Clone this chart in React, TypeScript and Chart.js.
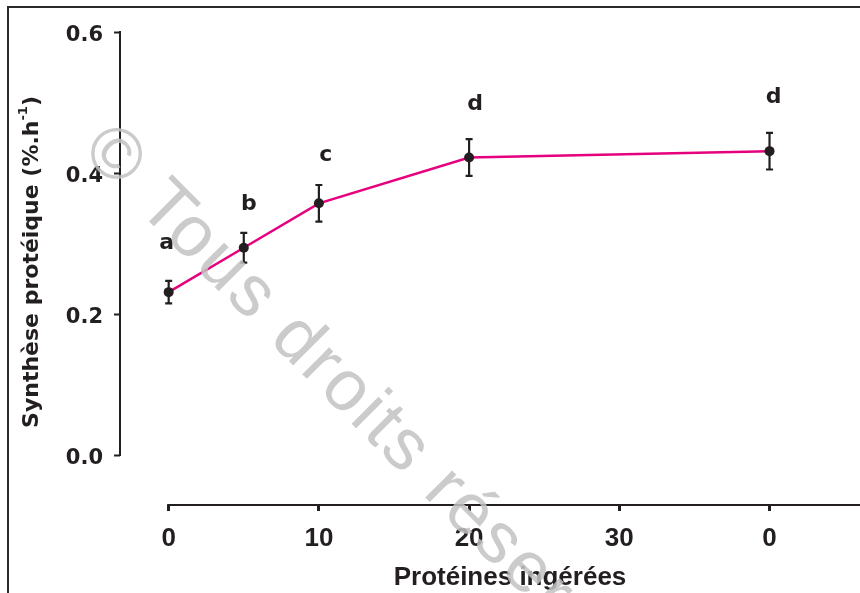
import React, { useEffect, useRef } from 'react';
import { Chart, registerables } from 'chart.js';

Chart.register(...registerables);

// ---- data ----
const doses = [0, 5, 10, 20, 40];
const synthesis = [0.231, 0.294, 0.357, 0.422, 0.431];
const sem = [0.016, 0.021, 0.026, 0.026, 0.026];
const groupLetters = ['a', 'b', 'c', 'd', 'd'];
const xTickValues = [0, 10, 20, 30, 40];
const xTickLabels = ['0', '10', '20', '30', '0'];
const yTickValues = [0, 0.2, 0.4, 0.6];
const yTickLabels = ['0.0', '0.2', '0.4', '0.6'];
const xTitle = 'Protéines ingérées';
const yTitleMain = 'Synthèse protéique (%.h';
const yTitleSup = '-1';
const yTitleEnd = ')';
const watermark = '© Tous droits réservés';

// ---- layout / style ----
const W = 860;
const H = 593;
const INK = '#231f20';
const MAGENTA = '#e6007e';
const LETTER_OFFSETS = [[-2, -49], [5, -43], [7, -48], [6, -53], [4, -54]];
const Y_FONT = '"DejaVu Sans", sans-serif';
const X_FONT = '"Liberation Sans", Arial, sans-serif';

const decor = {
  id: 'decor',
  beforeDraw(chart: any) {
    const ctx = chart.ctx;
    ctx.save();
    ctx.fillStyle = '#ffffff';
    ctx.fillRect(0, 0, chart.width, chart.height);
    ctx.strokeStyle = '#2b2b2b';
    ctx.lineWidth = 2;
    ctx.beginPath();
    ctx.moveTo(8, chart.height);
    ctx.lineTo(8, 7);
    ctx.lineTo(chart.width, 7);
    ctx.stroke();
    ctx.restore();
  },
  beforeDatasetsDraw(chart: any) {
    const ctx = chart.ctx;
    const xs = chart.scales.x;
    const ys = chart.scales.y;
    const area = chart.chartArea;
    ctx.save();
    ctx.strokeStyle = INK;
    ctx.lineWidth = 2;
    ctx.beginPath();
    ctx.moveTo(xs.getPixelForValue(0) - 1.5, area.bottom);
    ctx.lineTo(chart.width, area.bottom);
    ctx.stroke();
    ctx.beginPath();
    ctx.moveTo(area.left, ys.getPixelForValue(0) + 1);
    ctx.lineTo(area.left, ys.getPixelForValue(0.6) - 1);
    ctx.stroke();
    ctx.lineWidth = 2.2;
    for (let i = 0; i < doses.length; i++) {
      const px = xs.getPixelForValue(doses[i]);
      const top = ys.getPixelForValue(synthesis[i] + sem[i]);
      const bot = ys.getPixelForValue(synthesis[i] - sem[i]);
      ctx.beginPath();
      ctx.moveTo(px, top);
      ctx.lineTo(px, bot);
      ctx.moveTo(px - 3.5, top);
      ctx.lineTo(px + 3.5, top);
      ctx.moveTo(px - 3.5, bot);
      ctx.lineTo(px + 3.5, bot);
      ctx.stroke();
    }
    ctx.restore();
  },
  afterDatasetsDraw(chart: any) {
    const ctx = chart.ctx;
    const xs = chart.scales.x;
    const ys = chart.scales.y;
    ctx.save();
    ctx.fillStyle = INK;
    ctx.font = `bold 22px ${Y_FONT}`;
    ctx.textAlign = 'center';
    ctx.textBaseline = 'middle';
    for (let i = 0; i < doses.length; i++) {
      const px = xs.getPixelForValue(doses[i]);
      const py = ys.getPixelForValue(synthesis[i]);
      ctx.fillText(groupLetters[i], px + LETTER_OFFSETS[i][0], py + LETTER_OFFSETS[i][1]);
    }
    ctx.font = `bold 26px ${X_FONT}`;
    ctx.fillText(xTitle, 510, 578);
    ctx.translate(32, 262);
    ctx.rotate(-Math.PI / 2);
    const mainFont = `bold 22px ${Y_FONT}`;
    const supFont = `bold 13px ${Y_FONT}`;
    ctx.font = mainFont;
    const w1 = ctx.measureText(yTitleMain).width;
    const w3 = ctx.measureText(yTitleEnd).width;
    ctx.font = supFont;
    const w2 = ctx.measureText(yTitleSup).width;
    const total = w1 + w2 + w3;
    let cx = -total / 2;
    ctx.textAlign = 'left';
    ctx.textBaseline = 'middle';
    ctx.font = mainFont;
    ctx.fillText(yTitleMain, cx, 0);
    cx += w1;
    ctx.font = supFont;
    ctx.fillText(yTitleSup, cx, -8);
    cx += w2;
    ctx.font = mainFont;
    ctx.fillText(yTitleEnd, cx, 0);
    ctx.restore();
  },
  afterDraw(chart: any) {
    const ctx = chart.ctx;
    ctx.save();
    const size = 72;
    const ang = (45 * Math.PI) / 180;
    ctx.font = `${size}px "Liberation Sans", Arial, sans-serif`;
    (ctx as any).letterSpacing = '3px';
    const cw = ctx.measureText('©').width;
    const sx = 114 - Math.cos(ang) * cw / 2;
    const sy = 158 - Math.sin(ang) * cw / 2;
    ctx.translate(sx, sy);
    ctx.rotate(ang);
    ctx.globalAlpha = 0.85;
    ctx.fillStyle = '#c2c2c2';
    ctx.textAlign = 'left';
    ctx.textBaseline = 'middle';
    ctx.fillText(watermark, 0, 0);
    ctx.restore();
  },
};

export default function App() {
  const ref = useRef<HTMLCanvasElement | null>(null);
  useEffect(() => {
    const canvas = ref.current;
    if (!canvas) return;
    const chart = new Chart(canvas, {
      type: 'line',
      data: {
        datasets: [
          {
            data: doses.map((d, i) => ({ x: d, y: synthesis[i] })),
            borderColor: MAGENTA,
            borderWidth: 2.5,
            pointRadius: 5,
            pointBackgroundColor: INK,
            pointBorderColor: INK,
            pointBorderWidth: 0,
            tension: 0,
          },
        ],
      },
      options: {
        animation: false,
        responsive: false,
        devicePixelRatio: 1,
        layout: { padding: { top: 32, left: 0, right: 0, bottom: 0 } },
        plugins: { legend: { display: false }, tooltip: { enabled: false } },
        scales: {
          x: {
            type: 'linear',
            min: -3.24,
            max: 45.69,
            afterFit(s: any) { s.height = 88; },
            afterBuildTicks(s: any) { s.ticks = xTickValues.map((v) => ({ value: v })); },
            ticks: {
              callback: (_v: any, i: number) => xTickLabels[i],
              font: { family: X_FONT, size: 26, weight: 'bold' },
              color: INK,
              padding: 12,
              maxRotation: 0,
              autoSkip: false,
            },
            grid: { display: true, drawOnChartArea: false, drawTicks: true, tickLength: 6, tickWidth: 3, tickColor: INK },
            border: { display: false },
          },
          y: {
            type: 'linear',
            min: -0.0709,
            max: 0.6,
            afterFit(s: any) { s.width = 120; },
            afterBuildTicks(s: any) { s.ticks = yTickValues.map((v) => ({ value: v })); },
            ticks: {
              callback: (_v: any, i: number) => yTickLabels[i],
              font: { family: Y_FONT, size: 21, weight: 'bold' },
              color: INK,
              padding: 11,
              labelOffset: 4,
              autoSkip: false,
            },
            grid: { display: true, drawOnChartArea: false, drawTicks: true, tickLength: 6, tickWidth: 2, tickColor: INK },
            border: { display: false },
          },
        },
      },
      plugins: [decor],
    } as any);
    return () => chart.destroy();
  }, []);
  return (
    <div style={{ position: 'fixed', left: 0, top: 0, width: W, height: H, background: '#fff' }}>
      <canvas ref={ref} width={W} height={H} style={{ display: 'block' }} />
    </div>
  );
}
